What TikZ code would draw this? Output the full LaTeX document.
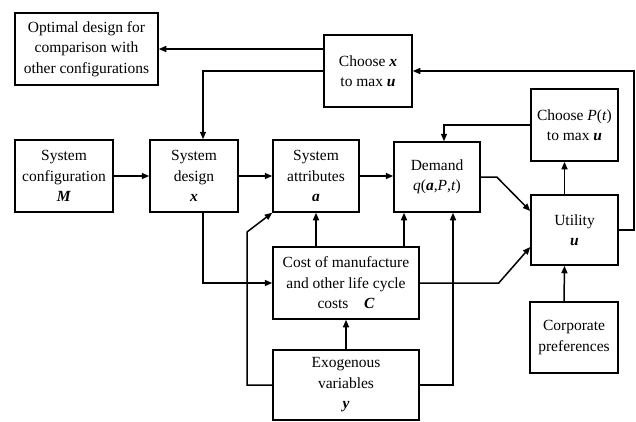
\documentclass[tikz,border=0pt]{standalone}
\usepackage{fontspec}
\setmainfont{Liberation Serif}
\usetikzlibrary{arrows.meta}
\newcommand{\bi}[1]{\textbf{\textit{#1}}}
\tikzset{
  blk/.style={draw, line width=1.5pt, rectangle, align=center, inner sep=2pt, fill=white, font=\fontsize{15.5}{20.5}\selectfont},
  link/.style={line width=1.5pt, -{Triangle[length=7.5pt,width=6pt]}},
}
\begin{document}
\begin{tikzpicture}[x=1pt, y=-1pt]

    \useasboundingbox (0,0) rectangle (636,421);

    \node [blk, minimum width=143, minimum height=72] at (86.5,49) (opt) {Optimal design for\\comparison with\\other configurations};
    \node [blk, minimum width=88, minimum height=72] at (368,71) (chx) {Choose \bi{x}\\to max \bi{u}};

    \node [blk, minimum width=98, minimum height=72] at (64,176) (cfg) {System\\configuration\\\bi{M}};
    \node [blk, minimum width=88, minimum height=72] at (194,176) (des) {System\\design\\\bi{x}};
    \node [blk, minimum width=86, minimum height=72] at (316,176) (att) {System\\attributes\\\bi{a}};
    \node [blk, minimum width=86, minimum height=70] at (437,177) (dem) {Demand\\\textit{q}(\bi{a},\textit{P},\textit{t})};

    \node [blk, minimum width=87, minimum height=72] at (574.5,125) (chp) {Choose \textit{P}(\textit{t})\\to max \bi{u}};
    \node [blk, minimum width=87, minimum height=70] at (574.5,230) (uti) {Utility\\\bi{u}};
    \node [blk, minimum width=88, minimum height=71] at (574,337.5) (cor) {Corporate\\preferences};

    \node [blk, minimum width=146, minimum height=72] at (346,283) (cst) {Cost of manufacture\\and other life cycle\\costs\quad\bi{C}};
    \node [blk, minimum width=146, minimum height=70] at (346,385) (exo) {Exogenous\\variables\\\bi{y}};

    \coordinate (rt) at (634,230);
    \coordinate (lf) at (247,232);
    \coordinate (dq) at ([xshift=-33pt]dem.south);

    \path [link, draw] (chx.west |- opt.east) -- (opt.east);
    \path [link, draw] (chx.west) -| ([xshift=9pt]des.north);
    \path [link, draw] (uti.east) -- (rt) |- (chx.east);
    \path [link, draw] (chp.west) -| ([xshift=7pt]dem.north);
    \path [link, draw] ([xshift=-10pt]uti.north) -- ([xshift=-10pt]chp.south);
    \path [link, draw] ([xshift=-10pt]cor.north) -- ([xshift=-10pt]uti.south);

    \path [link, draw] (cfg.east) -- (des.west);
    \path [link, draw] (des.east) -- (att.west);
    \path [link, draw] (att.east) -- (dem.west |- att.east);
    \path [link, draw] (dem.east) -- ++(16,0) -- ([yshift=19pt]uti.west);
    \path [link, draw] (cst.east) -- ++(79,0) -- ([yshift=-17pt]uti.west);

    \path [link, draw] ([xshift=9pt]des.south) |- (cst.west);
    \path [link, draw] (exo.west) -| (lf) -- (att.south west);
    \path [link, draw] (cst.north -| att.south) -- (att.south);
    \path [link, draw] (dq |- cst.north) -- (dq);
    \path [link, draw] (exo.east) -| ([xshift=16pt]dem.south);
    \path [link, draw] (exo.north) -- (cst.south);

\end{tikzpicture}
\end{document}
